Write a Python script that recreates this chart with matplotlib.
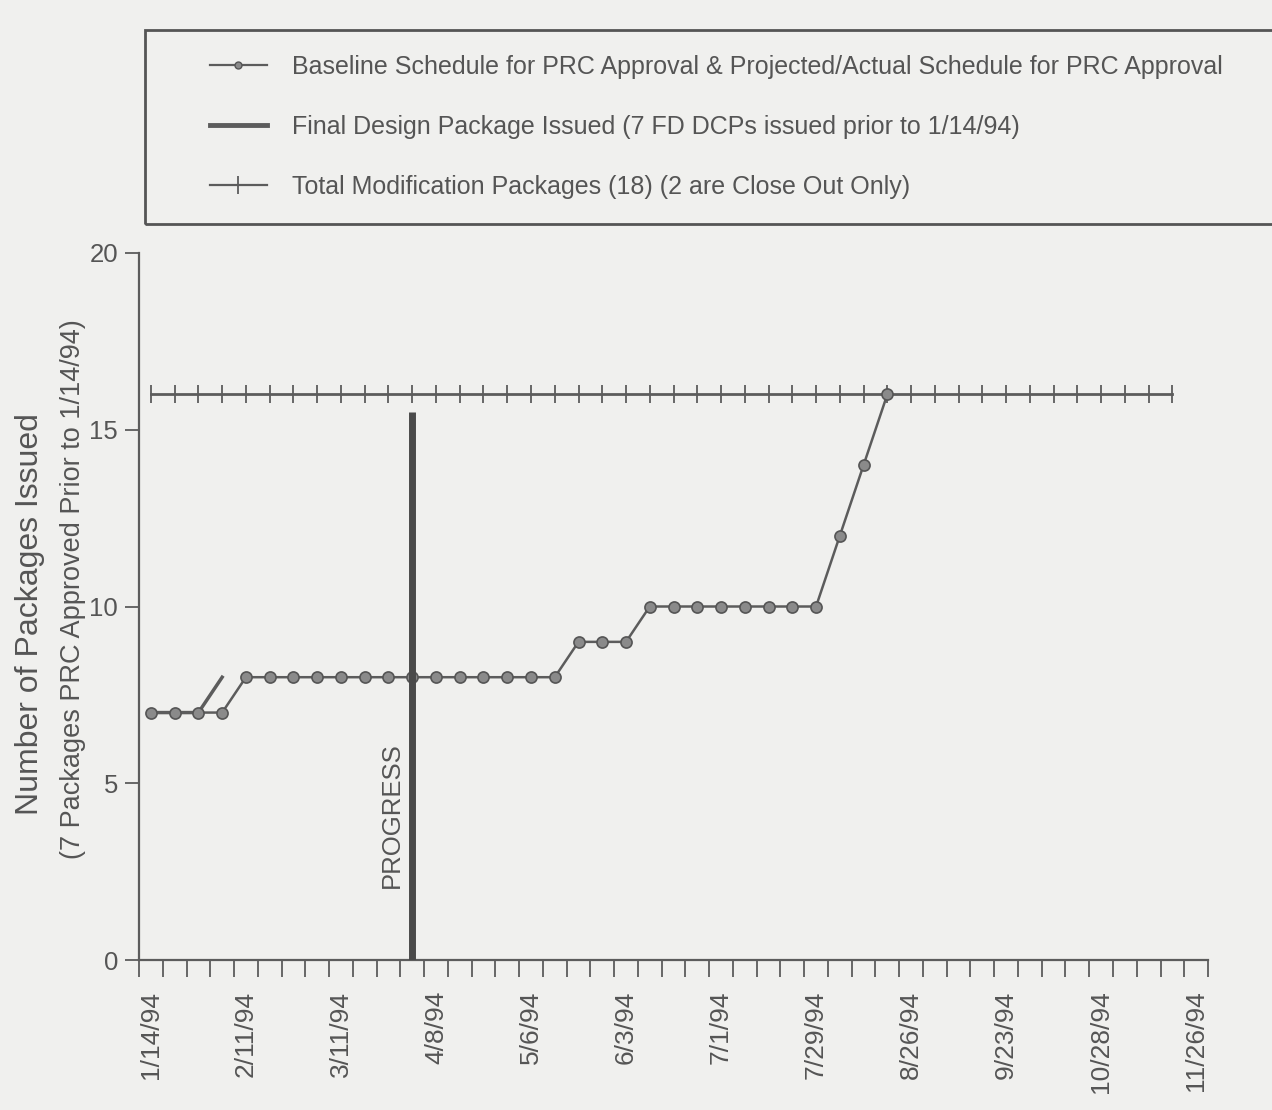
"""Package issue schedule chart (weekly categories, 1/14/94 - 11/26/94)."""
import matplotlib
matplotlib.use("Agg")
import matplotlib.pyplot as plt
from matplotlib.lines import Line2D
from matplotlib.patches import Rectangle

plt.rcParams["font.family"] = ["Liberation Sans", "DejaVu Sans"]

# weekly categories on the x axis; only every 4th (or so) week is labelled
N_WEEKS = 45
TICK_WEEKS = [0, 4, 8, 12, 16, 20, 24, 28, 32, 36, 40, 44]
TICK_LABELS = ["1/14/94", "2/11/94", "3/11/94", "4/8/94", "5/6/94", "6/3/94",
               "7/1/94", "7/29/94", "8/26/94", "9/23/94", "10/28/94", "11/26/94"]

# baseline / projected schedule for PRC approval
BASELINE_WEEKS = [0, 1, 2, 3, 4, 5, 6, 7, 8, 9, 10, 11, 12, 13, 14, 15,
                  16, 17, 18, 19, 20, 21, 22, 23, 24, 25, 26, 27, 28, 29, 30, 31]
BASELINE = [7, 7, 7, 7, 8, 8, 8, 8, 8, 8, 8, 8, 8, 8, 8, 8,
            8, 8, 9, 9, 9, 10, 10, 10, 10, 10, 10, 10, 10, 12, 14, 16]

# final design packages issued
FD_WEEKS = [0, 1, 2, 3]
FD_ISSUED = [7, 7, 7, 8]

# total modification packages
TOTAL_WEEKS = [0, 1, 2, 3, 4, 5, 6, 7, 8, 9, 10, 11, 12, 13, 14, 15, 16, 17, 18, 19, 20, 21,
               22, 23, 24, 25, 26, 27, 28, 29, 30, 31, 32, 33, 34, 35, 36, 37, 38, 39, 40, 41, 42, 43]
TOTAL = [16, 16, 16, 16, 16, 16, 16, 16, 16, 16, 16, 16, 16, 16, 16, 16, 16, 16, 16, 16, 16, 16,
         16, 16, 16, 16, 16, 16, 16, 16, 16, 16, 16, 16, 16, 16, 16, 16, 16, 16, 16, 16, 16, 16]

# "PROGRESS" marker (current week)
PROGRESS_WEEK = 11
PROGRESS_TOP = 15.5

BG = "#f0f0ee"
INK = "#5c5c5c"
TXT = "#555555"

LABELS = [
    "Baseline Schedule for PRC Approval & Projected/Actual Schedule for PRC Approval",
    "Final Design Package Issued (7 FD DCPs issued prior to 1/14/94)",
    "Total Modification Packages (18) (2 are Close Out Only)",
]

fig = plt.figure(figsize=(12.72, 11.10), dpi=100, facecolor=BG)
ax = fig.add_axes([0.1093, 0.1351, 0.8404, 0.6370])
ax.set_facecolor(BG)

ax.plot(TOTAL_WEEKS, TOTAL, color=INK, lw=2.0, marker="|", markersize=13,
        markeredgewidth=1.3, zorder=2)
ax.plot(FD_WEEKS, FD_ISSUED, color=INK, lw=2.5, zorder=2)
ax.plot(BASELINE_WEEKS, BASELINE, color=INK, lw=1.8, marker="o", markersize=8,
        markerfacecolor="#8a8a8a", markeredgecolor="#555555", markeredgewidth=1.2, zorder=3)
ax.vlines(PROGRESS_WEEK, 0, PROGRESS_TOP, color="#4a4a4a", lw=5, zorder=4)
ax.text(PROGRESS_WEEK - 0.35, 4.1, "PROGRESS", rotation=90, ha="right", va="center",
        fontsize=18.5, color=TXT)

ax.set_xlim(-0.5, N_WEEKS - 0.5)
ax.set_ylim(0, 20)
ax.set_xticks(TICK_WEEKS)
ax.set_xticklabels(TICK_LABELS, rotation=90, fontsize=19, color=TXT)
ax.set_xticks([w - 0.5 for w in range(N_WEEKS + 1)], minor=True)
ax.tick_params(axis="x", which="major", length=0, pad=22)
ax.tick_params(axis="x", which="minor", length=12, width=1.3, color=INK, direction="out")
ax.set_yticks([0, 5, 10, 15, 20])
ax.tick_params(axis="y", length=10, width=1.3, color=INK, labelsize=18.5, labelcolor=TXT, pad=5)
for side in ("top", "right"):
    ax.spines[side].set_visible(False)
for side in ("left", "bottom"):
    ax.spines[side].set_color(INK)
    ax.spines[side].set_linewidth(1.6)

ax.text(-0.102, 0.49, "Number of Packages Issued", transform=ax.transAxes, rotation=90,
        ha="center", va="center", fontsize=23, color=TXT)
ax.text(-0.062, 0.525, "(7 Packages PRC Approved Prior to 1/14/94)", transform=ax.transAxes,
        rotation=90, ha="center", va="center", fontsize=19.5, color=TXT)

# legend box (runs off the right edge of the page)
fig.patches.append(Rectangle((0.114, 0.798), 0.95, 0.175, transform=fig.transFigure,
                             facecolor="none", edgecolor="#555555", lw=2.0))
handles = [
    Line2D([], [], color=INK, lw=1.6, marker="o", markersize=5,
           markerfacecolor="#8a8a8a", markeredgecolor="#555555"),
    Line2D([], [], color=INK, lw=3.5),
    Line2D([], [], color=INK, lw=1.6, marker="|", markersize=13, markeredgewidth=1.3),
]
fig.legend(handles, LABELS, loc="upper left", bbox_to_anchor=(0.155, 0.962),
           frameon=False, fontsize=18, labelspacing=1.44, handlelength=2.3,
           handletextpad=1.0, borderpad=0, labelcolor=TXT)

fig.savefig("out.png", dpi=100, facecolor=BG)
